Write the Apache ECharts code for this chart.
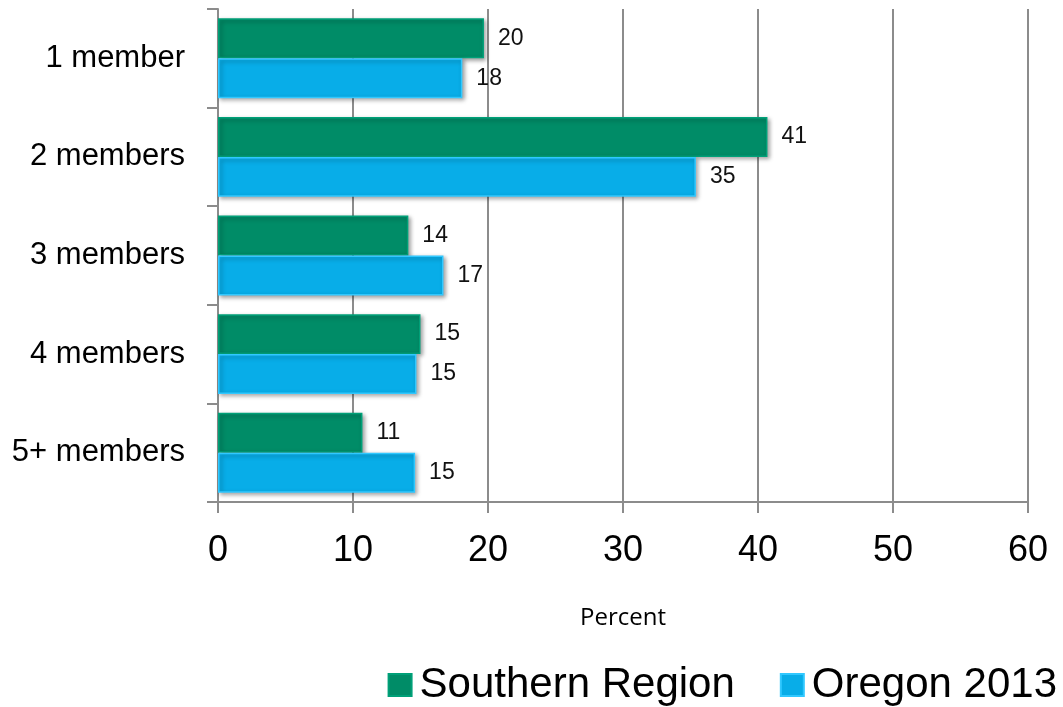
<!DOCTYPE html>
<html>
<head>
<meta charset="utf-8">
<script src="https://cdn.jsdelivr.net/npm/echarts@6/dist/echarts.min.js"></script>
<style>
html,body{margin:0;padding:0;background:#fff;}
#chart{width:1063px;height:707px;}
</style>
</head>
<body>
<div id="chart"></div>
<script>
const categories = ['1 member', '2 members', '3 members', '4 members', '5+ members'];
const southernRegion = [19.7, 40.7, 14.1, 15.0, 10.7];
const oregon2013 = [18.1, 35.4, 16.7, 14.7, 14.6];
const seriesNames = ['Southern Region', 'Oregon 2013'];
const axisName = 'Percent';

const chart = echarts.init(document.getElementById('chart'), null, {renderer: 'canvas'});

function makeSeries(name, data, color, border) {
  return {
    name: name,
    type: 'bar',
    data: data,
    barGap: '0%',
    barCategoryGap: '19%',
    itemStyle: {
      color: color,
      borderColor: border,
      borderWidth: 1.5,
      shadowColor: 'rgba(0,0,0,0.35)',
      shadowBlur: 4,
      shadowOffsetX: 2,
      shadowOffsetY: 2
    },
    label: {
      show: true,
      position: 'right',
      distance: 14,
      fontFamily: 'Liberation Sans, Arial, sans-serif',
      fontSize: 23,
      color: '#111',
      formatter: p => Math.round(p.value)
    }
  };
}

chart.setOption({
  animation: false,
  backgroundColor: '#fff',
  grid: {left: 218, right: 35, top: 9, bottom: 205, containLabel: false, outerBoundsMode: 'none'},
  legend: {
    right: 1,
    top: 659,
    itemWidth: 23,
    itemHeight: 22,
    itemGap: 45,
    icon: 'rect',
    textStyle: {fontFamily: 'Liberation Sans, Arial, sans-serif', fontSize: 42, color: '#000', padding: [0,0,0,3]},
    data: seriesNames
  },
  xAxis: {
    type: 'value',
    min: 0, max: 60, interval: 10,
    name: axisName,
    nameLocation: 'middle',
    nameGap: 104,
    nameTextStyle: {fontFamily: 'Open Sans, Lato, sans-serif', fontSize: 24, color: '#000'},
    axisLine: {show: true, lineStyle: {color: '#8c8c8c', width: 2}},
    axisTick: {show: true, length: 11, lineStyle: {color: '#8c8c8c', width: 2}},
    axisLabel: {fontFamily: 'Liberation Sans, Arial, sans-serif', fontSize: 36, color: '#000', margin: 31},
    splitLine: {show: true, lineStyle: {color: '#8c8c8c', width: 2}}
  },
  yAxis: {
    type: 'category',
    data: categories,
    inverse: true,
    axisLine: {show: true, lineStyle: {color: '#8c8c8c', width: 2}},
    axisTick: {show: true, length: 11, lineStyle: {color: '#8c8c8c', width: 2}},
    axisLabel: {fontFamily: 'Liberation Sans, Arial, sans-serif', fontSize: 31, color: '#000', margin: 33},
    splitLine: {show: false}
  },
  series: [
    makeSeries(seriesNames[0], southernRegion, '#008c67', '#00a078'),
    makeSeries(seriesNames[1], oregon2013, '#08ade8', '#30c8ff')
  ]
});
</script>
</body>
</html>
